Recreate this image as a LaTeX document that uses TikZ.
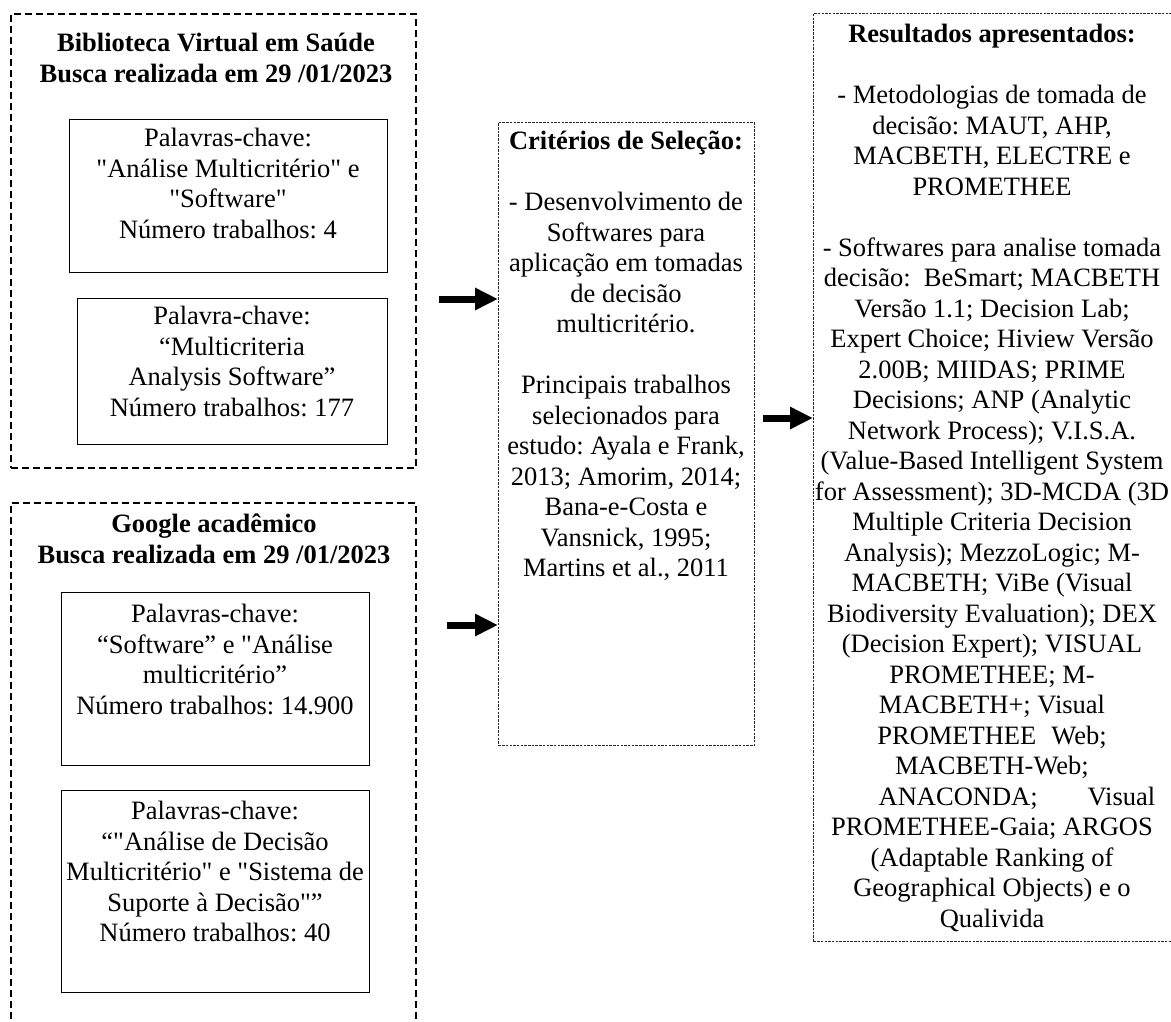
\documentclass[tikz,border=0pt]{standalone}
\usepackage{fontspec}
\setmainfont{Liberation Serif}
\newfontfamily\qfont{Liberation Serif}
\newcommand{\sq}{{\qfont"}}
\usetikzlibrary{arrows.meta}
\frenchspacing
\begin{document}
\frenchspacing
\begin{tikzpicture}[x=1pt,y=-1pt,
  outerbox/.style={draw=black, line width=2.4pt, dash pattern=on 7pt off 4pt, rectangle, inner sep=0pt, anchor=north west},
  innerbox/.style={draw=black, line width=1.3pt, rectangle, inner sep=0pt, anchor=north west},
  finebox/.style={draw=black!85, line width=0.9pt, dash pattern=on 2.5pt off 1.2pt, rectangle, inner sep=0pt, anchor=north west},
  txt/.style={align=center, inner sep=0pt, anchor=north, font=\fontsize{26.5}{30.5}\selectfont},
  bigarrow/.style={line width=7pt, -{Triangle[length=23pt,width=21pt]}},
]
\useasboundingbox (0,0) rectangle (1171,1021);
\fill[white] (0,0) rectangle (1171,1021);

% boxes
\node[outerbox, minimum width=405pt, minimum height=454pt] (box1) at (10,13) {};
\node[innerbox, minimum width=318pt, minimum height=153pt] (in1) at (69,119) {};
\node[innerbox, minimum width=310pt, minimum height=146pt] (in2) at (77,298) {};
\node[outerbox, minimum width=405pt, minimum height=540pt] (box2) at (10,502) {};
\node[innerbox, minimum width=308pt, minimum height=173pt] (in3) at (61,592) {};
\node[innerbox, minimum width=308pt, minimum height=202pt] (in4) at (61,790) {};
\node[finebox, minimum width=256pt, minimum height=623pt] (mid) at (498,122) {};
\node[finebox, minimum width=359pt, minimum height=928pt] (res) at (813,13) {};

% texts
\node[txt] (t1) at (216,30) {\strut\textbf{Biblioteca Virtual em Saúde}\\\textbf{Busca realizada em 29 /01/2023}};
\node[txt] (tin1) at (228,125) {\strut Palavras-chave:\\\sq Análise Multicritério\sq{} e\\\sq Software\sq\\Número trabalhos: 4};
\node[txt] (tin2) at (232,303) {\strut Palavra-chave:\\“Multicriteria\\Analysis Software”\\Número trabalhos: 177};
\node[txt] (t2) at (214,511) {\strut\textbf{Google acadêmico}\\\textbf{Busca realizada em 29 /01/2023}};
\node[txt] (tin3) at (215,601) {\strut Palavras-chave:\\“Software” e \sq Análise\\multicritério”\\Número trabalhos: 14.900};
\node[txt] (tin4) at (215,798) {\strut Palavras-chave:\\“\sq Análise de Decisão\\Multicritério\sq{} e \sq Sistema de\\Suporte à Decisão\sq”\\Número trabalhos: 40};
\node[txt] (tmid) at (626,128) {\strut\textbf{Critérios de Seleção:}\\[30.5pt]
- Desenvolvimento de\\Softwares para\\aplicação em tomadas\\de decisão\\multicritério.\\[30.5pt]
Principais trabalhos\\selecionados para\\estudo: Ayala e Frank,\\2013; Amorim, 2014;\\Bana-e-Costa e\\Vansnick, 1995;\\Martins et al., 2011};
\node[txt] (tres) at (992,21) {\strut\textbf{Resultados apresentados:}\\[30.5pt]
- Metodologias de tomada de\\decisão: MAUT, AHP,\\MACBETH, ELECTRE e\\PROMETHEE\\[30.5pt]
- Softwares para analise tomada\\decisão:\ \ BeSmart; MACBETH\\Versão 1.1; Decision Lab;\\Expert Choice; Hiview Versão\\2.00B; MIIDAS; PRIME\\Decisions; ANP (Analytic\\Network Process); V.I.S.A.\\(Value-Based Intelligent System\\for Assessment); 3D-MCDA (3D\\Multiple Criteria Decision\\Analysis); MezzoLogic; M-\\MACBETH; ViBe (Visual\\Biodiversity Evaluation); DEX\\(Decision Expert); VISUAL\\PROMETHEE; M-\\MACBETH+; Visual\\PROMETHEE\hspace{15pt}Web;\\MACBETH-Web;\\\hspace*{50pt}ANACONDA;\hspace{50pt}Visual\\PROMETHEE-Gaia; ARGOS\\(Adaptable Ranking of\\Geographical Objects) e o\\Qualivida};

% arrows
\coordinate (a1s) at (439,299);
\coordinate (a2s) at (447,625);
\coordinate (a3s) at (763,418);
\draw[bigarrow] (a1s) -- (a1s -| mid.west);
\draw[bigarrow] (a2s) -- (a2s -| mid.west);
\draw[bigarrow] (a3s) -- (a3s -| res.west);
\end{tikzpicture}
\end{document}
